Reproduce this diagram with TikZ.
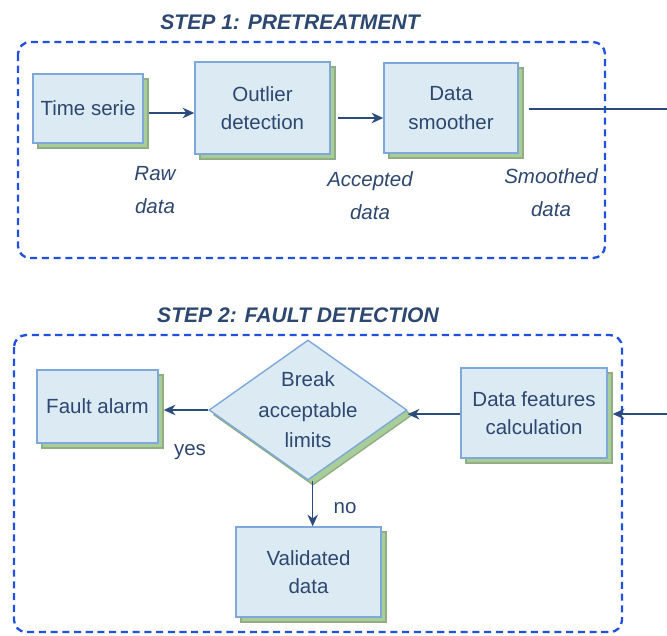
\documentclass[tikz,border=0pt]{standalone}
\usepackage{fontspec}
\setmainfont{Liberation Sans}
\usetikzlibrary{arrows.meta,shapes.geometric,shadows}
\definecolor{framecol}{HTML}{2050E0}
\definecolor{boxfill}{HTML}{DCEBF3}
\definecolor{boxline}{HTML}{7EA8DA}
\definecolor{shadecol}{HTML}{A9CD99}
\definecolor{inkcol}{HTML}{2C4770}
\definecolor{arrowcol}{HTML}{2A4B7C}
\newcommand{\pxsize}{0.03cm}
\newcommand{\bodyfont}{\fontsize{17.5}{24}\selectfont}
\newcommand{\notefont}{\fontsize{17.5}{28}\selectfont\itshape}
\newcommand{\titlefont}{\fontsize{18}{22}\selectfont\bfseries\itshape}
\tikzset{
	procbox/.style={draw=boxline, fill=boxfill, line width=1.2pt, text=inkcol,
		align=center, font=\bodyfont, inner sep=0pt,
		general shadow={shadow xshift=0.15cm, shadow yshift=-0.15cm, fill=shadecol, draw=shadecol!85!black}},
	decision/.style={procbox, diamond, aspect=1.4, inner sep=-5pt},
	flow/.style={draw=arrowcol, line width=1.3pt, -{Stealth[length=10pt,width=9pt]}},
	stepframe/.style={draw=framecol, line width=2pt, dash pattern=on 6pt off 4pt, rounded corners=0.36cm},
	note/.style={text=inkcol, align=center, font=\notefont},
	answer/.style={text=inkcol, font=\bodyfont},
	steptitle/.style={text=inkcol, font=\titlefont}
}

\begin{document}
\begin{tikzpicture}[x=\pxsize,y=-\pxsize]
	\useasboundingbox (0,0) rectangle (667,635);
	\coordinate (Out) at (667,109);
	\coordinate (In) at (667,414);

	\draw[stepframe] (18,42) rectangle (605,258);
	\draw[stepframe] (14,335) rectangle (622,632);
	\node[steptitle] (T1) at (290,22) {STEP 1: PRETREATMENT};
	\node[steptitle] (T2) at (298,315) {STEP 2: FAULT DETECTION};

	\node[procbox, minimum width=3.3cm, minimum height=2.07cm] (TS) at (88,108.5) {Time serie};
	\node[procbox, minimum width=4.05cm, minimum height=2.76cm] (OD) at (262.5,108) {Outlier\\detection};
	\node[procbox, minimum width=4.02cm, minimum height=2.7cm] (DS) at (451,108) {Data\\smoother};
	\node[note] (RD) at (155,190) {Raw\\data};
	\node[note] (AD) at (370,196) {Accepted\\data};
	\node[note] (SD) at (551,193) {Smoothed\\data};

	\node[procbox, minimum width=3.63cm, minimum height=2.19cm] (FA) at (97.5,406.5) {Fault alarm};
	\node[decision, minimum width=5.94cm, minimum height=4.2cm] (BL) at (308,410) {Break\\[2pt]acceptable\\[2pt]limits};
	\node[procbox, minimum width=4.35cm, minimum height=2.7cm] (VD) at (308.5,572) {Validated\\data};
	\node[procbox, minimum width=4.38cm, minimum height=2.7cm] (DF) at (534,413) {Data features\\calculation};
	\node[answer] (Y) at (190,452) {yes};
	\node[answer] (N) at (345,508) {no};

	\draw[flow] ([shift={(5,4.5)}]TS.east) -- ([shift={(0,4.5)}]TS.east -| OD.west);
	\draw[flow] ([shift={(7,10)}]OD.east) -- ([shift={(0,10)}]OD.east -| DS.west);
	\draw[draw=arrowcol, line width=1.3pt] ([shift={(10,1)}]DS.east) -- (Out);
	\draw[flow] (In) -- ([xshift=0.15cm]In -| DF.east);
	\draw[flow] ([yshift=-1pt]DF.west) -- ([yshift=-1pt]DF.west -| BL.east);
	\draw[flow] (BL.west) -- ([xshift=0.15cm]BL.west -| FA.east);
	\draw[flow] ([xshift=4]BL.south) -- ([xshift=4]BL.south |- VD.north);
\end{tikzpicture}
\end{document}
